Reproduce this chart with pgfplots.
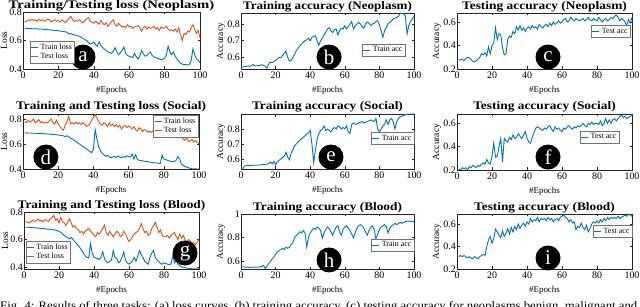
\documentclass[border=0pt]{standalone}
\usepackage{fontspec}
\setmainfont{Liberation Serif}
\usepackage{graphicx}
\usepackage{pgfplots}
\usepackage{pgfplotstable}
\pgfplotsset{compat=1.18}
\definecolor{mblue}{rgb}{0,0.447,0.741}
\definecolor{morange}{rgb}{0.850,0.325,0.098}
\definecolor{maxis}{rgb}{0.15,0.15,0.15}

% ---- Neoplasm ----
\pgfplotstableread[row sep=\\]{y\\
0.685\\0.684\\0.684\\0.683\\0.683\\0.682\\0.683\\0.681\\0.680\\0.681\\
0.679\\0.678\\0.679\\0.676\\0.675\\0.674\\0.672\\0.670\\0.671\\0.668\\
0.666\\0.665\\0.663\\0.660\\0.658\\0.645\\0.650\\0.642\\0.640\\0.636\\
0.632\\0.630\\0.620\\0.615\\0.605\\0.600\\0.585\\0.575\\0.580\\0.590\\
0.570\\0.560\\0.590\\0.565\\0.550\\0.540\\0.530\\0.520\\0.515\\0.510\\
0.525\\0.550\\0.520\\0.500\\0.515\\0.530\\0.555\\0.510\\0.495\\0.490\\
0.485\\0.480\\0.510\\0.485\\0.470\\0.490\\0.530\\0.505\\0.490\\0.495\\
0.510\\0.520\\0.495\\0.485\\0.480\\0.475\\0.470\\0.465\\0.468\\0.475\\
0.500\\0.560\\0.520\\0.500\\0.520\\0.490\\0.470\\0.455\\0.440\\0.435\\
0.430\\0.432\\0.428\\0.430\\0.460\\0.540\\0.500\\0.470\\0.460\\0.445\\
}\aTr
\pgfplotstableread[row sep=\\]{y\\
0.730\\0.735\\0.745\\0.740\\0.750\\0.740\\0.745\\0.735\\0.750\\0.740\\
0.745\\0.735\\0.740\\0.750\\0.745\\0.730\\0.740\\0.745\\0.735\\0.740\\
0.730\\0.745\\0.735\\0.725\\0.740\\0.755\\0.770\\0.745\\0.735\\0.740\\
0.735\\0.745\\0.730\\0.725\\0.740\\0.755\\0.760\\0.735\\0.730\\0.720\\
0.735\\0.725\\0.715\\0.740\\0.720\\0.710\\0.725\\0.700\\0.715\\0.735\\
0.745\\0.710\\0.700\\0.720\\0.705\\0.695\\0.700\\0.690\\0.710\\0.695\\
0.700\\0.685\\0.695\\0.700\\0.705\\0.690\\0.665\\0.690\\0.700\\0.680\\
0.695\\0.685\\0.690\\0.700\\0.680\\0.690\\0.670\\0.695\\0.685\\0.690\\
0.700\\0.680\\0.670\\0.675\\0.665\\0.680\\0.660\\0.690\\0.640\\0.600\\
0.650\\0.640\\0.665\\0.660\\0.690\\0.710\\0.680\\0.650\\0.670\\0.620\\
}\aTe
\pgfplotstableread[row sep=\\]{y\\
0.540\\0.545\\0.545\\0.548\\0.546\\0.550\\0.558\\0.548\\0.550\\0.549\\
0.552\\0.556\\0.550\\0.548\\0.535\\0.560\\0.572\\0.568\\0.575\\0.582\\
0.590\\0.600\\0.598\\0.612\\0.625\\0.636\\0.600\\0.578\\0.582\\0.600\\
0.620\\0.640\\0.655\\0.670\\0.680\\0.690\\0.700\\0.705\\0.715\\0.700\\
0.720\\0.725\\0.730\\0.700\\0.672\\0.700\\0.715\\0.735\\0.750\\0.770\\
0.778\\0.760\\0.748\\0.765\\0.770\\0.735\\0.760\\0.775\\0.770\\0.790\\
0.770\\0.785\\0.798\\0.815\\0.770\\0.790\\0.800\\0.810\\0.800\\0.785\\
0.775\\0.800\\0.812\\0.805\\0.790\\0.800\\0.805\\0.815\\0.820\\0.795\\
0.760\\0.720\\0.760\\0.780\\0.800\\0.810\\0.820\\0.830\\0.835\\0.840\\
0.845\\0.865\\0.862\\0.860\\0.850\\0.740\\0.790\\0.815\\0.830\\0.845\\
}\bTr
\pgfplotstableread[row sep=\\]{y\\
0.280\\0.275\\0.285\\0.270\\0.290\\0.300\\0.295\\0.280\\0.265\\0.260\\
0.270\\0.285\\0.300\\0.330\\0.320\\0.340\\0.310\\0.390\\0.330\\0.400\\
0.420\\0.550\\0.450\\0.500\\0.490\\0.380\\0.320\\0.330\\0.450\\0.480\\
0.470\\0.520\\0.500\\0.560\\0.530\\0.570\\0.530\\0.550\\0.520\\0.550\\
0.560\\0.540\\0.570\\0.550\\0.560\\0.540\\0.580\\0.560\\0.550\\0.570\\
0.580\\0.560\\0.590\\0.570\\0.600\\0.580\\0.590\\0.610\\0.590\\0.600\\
0.620\\0.630\\0.600\\0.610\\0.640\\0.620\\0.610\\0.630\\0.620\\0.610\\
0.620\\0.630\\0.610\\0.620\\0.640\\0.620\\0.610\\0.630\\0.620\\0.610\\
0.640\\0.620\\0.600\\0.620\\0.630\\0.610\\0.620\\0.640\\0.630\\0.650\\
0.660\\0.640\\0.610\\0.630\\0.620\\0.600\\0.570\\0.620\\0.590\\0.640\\
}\cTe
% ---- Social ----
\pgfplotstableread[row sep=\\]{y\\
0.690\\0.689\\0.688\\0.688\\0.687\\0.686\\0.686\\0.685\\0.684\\0.684\\
0.683\\0.682\\0.681\\0.680\\0.679\\0.678\\0.677\\0.675\\0.673\\0.672\\
0.670\\0.668\\0.665\\0.660\\0.665\\0.658\\0.645\\0.640\\0.630\\0.620\\
0.610\\0.600\\0.590\\0.580\\0.570\\0.560\\0.550\\0.540\\0.530\\0.560\\
0.715\\0.640\\0.580\\0.545\\0.525\\0.515\\0.500\\0.510\\0.495\\0.490\\
0.495\\0.500\\0.490\\0.505\\0.495\\0.490\\0.500\\0.495\\0.505\\0.500\\
0.495\\0.520\\0.480\\0.515\\0.475\\0.470\\0.468\\0.465\\0.462\\0.460\\
0.458\\0.455\\0.452\\0.450\\0.448\\0.450\\0.446\\0.445\\0.510\\0.480\\
0.475\\0.470\\0.465\\0.462\\0.458\\0.460\\0.470\\0.500\\0.480\\0.440\\
0.430\\0.420\\0.415\\0.410\\0.405\\0.402\\0.400\\0.401\\0.400\\0.400\\
}\dTr
\pgfplotstableread[row sep=\\]{y\\
0.780\\0.770\\0.790\\0.775\\0.785\\0.800\\0.770\\0.780\\0.795\\0.770\\
0.780\\0.765\\0.775\\0.770\\0.785\\0.800\\0.770\\0.760\\0.790\\0.760\\
0.740\\0.720\\0.710\\0.750\\0.780\\0.820\\0.760\\0.770\\0.760\\0.775\\
0.760\\0.770\\0.755\\0.770\\0.760\\0.740\\0.750\\0.760\\0.790\\0.810\\
0.835\\0.810\\0.780\\0.760\\0.750\\0.770\\0.760\\0.740\\0.770\\0.745\\
0.760\\0.740\\0.755\\0.735\\0.750\\0.720\\0.740\\0.750\\0.730\\0.745\\
0.735\\0.720\\0.740\\0.715\\0.705\\0.730\\0.720\\0.700\\0.715\\0.710\\
0.695\\0.705\\0.690\\0.710\\0.700\\0.680\\0.695\\0.680\\0.690\\0.710\\
0.680\\0.670\\0.690\\0.665\\0.660\\0.680\\0.670\\0.660\\0.650\\0.665\\
0.640\\0.630\\0.650\\0.620\\0.625\\0.635\\0.615\\0.630\\0.610\\0.605\\
}\dTe
\pgfplotstableread[row sep=\\]{y\\
0.535\\0.552\\0.555\\0.556\\0.556\\0.557\\0.558\\0.558\\0.559\\0.560\\
0.560\\0.562\\0.562\\0.564\\0.565\\0.570\\0.580\\0.568\\0.585\\0.560\\
0.580\\0.590\\0.600\\0.610\\0.620\\0.645\\0.612\\0.595\\0.640\\0.660\\
0.690\\0.700\\0.715\\0.725\\0.735\\0.745\\0.755\\0.765\\0.775\\0.790\\
0.700\\0.575\\0.660\\0.730\\0.770\\0.790\\0.800\\0.820\\0.790\\0.800\\
0.790\\0.780\\0.800\\0.810\\0.800\\0.820\\0.815\\0.800\\0.810\\0.800\\
0.820\\0.780\\0.770\\0.830\\0.840\\0.830\\0.835\\0.840\\0.845\\0.850\\
0.840\\0.845\\0.850\\0.855\\0.860\\0.855\\0.850\\0.870\\0.800\\0.780\\
0.800\\0.820\\0.830\\0.860\\0.830\\0.860\\0.870\\0.850\\0.800\\0.850\\
0.870\\0.880\\0.885\\0.890\\0.895\\0.898\\0.900\\0.900\\0.899\\0.900\\
}\eTr
\pgfplotstableread[row sep=\\]{y\\
0.210\\0.200\\0.220\\0.210\\0.220\\0.200\\0.230\\0.220\\0.240\\0.230\\
0.220\\0.240\\0.230\\0.250\\0.260\\0.250\\0.290\\0.260\\0.250\\0.320\\
0.430\\0.310\\0.320\\0.400\\0.470\\0.270\\0.470\\0.450\\0.440\\0.480\\
0.460\\0.500\\0.470\\0.480\\0.510\\0.490\\0.470\\0.500\\0.530\\0.470\\
0.440\\0.430\\0.480\\0.520\\0.560\\0.570\\0.560\\0.550\\0.540\\0.560\\
0.550\\0.570\\0.580\\0.550\\0.530\\0.570\\0.550\\0.560\\0.540\\0.530\\
0.560\\0.550\\0.570\\0.580\\0.560\\0.550\\0.570\\0.560\\0.580\\0.570\\
0.580\\0.600\\0.580\\0.570\\0.600\\0.590\\0.610\\0.590\\0.600\\0.600\\
0.590\\0.620\\0.580\\0.600\\0.640\\0.600\\0.630\\0.600\\0.630\\0.640\\
0.620\\0.640\\0.660\\0.670\\0.650\\0.660\\0.640\\0.650\\0.660\\0.670\\
}\fTe
% ---- Blood ----
\pgfplotstableread[row sep=\\]{y\\
0.690\\0.689\\0.688\\0.687\\0.686\\0.685\\0.684\\0.683\\0.682\\0.680\\
0.679\\0.678\\0.676\\0.675\\0.674\\0.672\\0.670\\0.668\\0.664\\0.660\\
0.652\\0.640\\0.630\\0.620\\0.612\\0.605\\0.615\\0.600\\0.585\\0.570\\
0.555\\0.540\\0.520\\0.500\\0.480\\0.470\\0.465\\0.570\\0.500\\0.470\\
0.465\\0.460\\0.455\\0.470\\0.510\\0.460\\0.440\\0.430\\0.440\\0.450\\
0.520\\0.470\\0.460\\0.430\\0.440\\0.470\\0.510\\0.450\\0.430\\0.420\\
0.430\\0.445\\0.470\\0.440\\0.480\\0.520\\0.490\\0.470\\0.440\\0.430\\
0.420\\0.470\\0.500\\0.520\\0.470\\0.450\\0.440\\0.425\\0.420\\0.430\\
0.425\\0.420\\0.418\\0.420\\0.480\\0.430\\0.450\\0.420\\0.410\\0.400\\
0.398\\0.395\\0.392\\0.390\\0.388\\0.387\\0.386\\0.386\\0.385\\0.386\\
}\gTr
\pgfplotstableread[row sep=\\]{y\\
0.730\\0.725\\0.720\\0.730\\0.740\\0.730\\0.735\\0.750\\0.735\\0.740\\
0.730\\0.745\\0.740\\0.730\\0.750\\0.760\\0.775\\0.740\\0.750\\0.720\\
0.760\\0.730\\0.720\\0.700\\0.730\\0.750\\0.720\\0.690\\0.700\\0.680\\
0.670\\0.650\\0.660\\0.640\\0.660\\0.670\\0.680\\0.660\\0.650\\0.630\\
0.620\\0.650\\0.640\\0.660\\0.680\\0.705\\0.650\\0.630\\0.660\\0.640\\
0.620\\0.640\\0.660\\0.650\\0.620\\0.630\\0.660\\0.640\\0.610\\0.585\\
0.600\\0.620\\0.640\\0.650\\0.660\\0.680\\0.715\\0.680\\0.650\\0.660\\
0.630\\0.640\\0.680\\0.700\\0.725\\0.690\\0.650\\0.670\\0.630\\0.620\\
0.620\\0.630\\0.610\\0.630\\0.640\\0.650\\0.620\\0.600\\0.640\\0.610\\
0.630\\0.600\\0.580\\0.600\\0.590\\0.570\\0.580\\0.560\\0.580\\0.600\\
}\gTe
\pgfplotstableread[row sep=\\]{y\\
0.555\\0.552\\0.550\\0.551\\0.548\\0.550\\0.549\\0.551\\0.550\\0.552\\
0.553\\0.558\\0.565\\0.538\\0.560\\0.580\\0.600\\0.620\\0.635\\0.660\\
0.680\\0.690\\0.700\\0.710\\0.700\\0.720\\0.710\\0.720\\0.740\\0.760\\
0.800\\0.820\\0.830\\0.850\\0.840\\0.860\\0.840\\0.720\\0.800\\0.840\\
0.860\\0.880\\0.870\\0.890\\0.880\\0.860\\0.795\\0.840\\0.870\\0.890\\
0.880\\0.850\\0.820\\0.860\\0.890\\0.900\\0.850\\0.820\\0.870\\0.890\\
0.900\\0.880\\0.860\\0.830\\0.800\\0.840\\0.880\\0.900\\0.910\\0.900\\
0.880\\0.850\\0.820\\0.860\\0.890\\0.900\\0.870\\0.790\\0.830\\0.870\\
0.890\\0.900\\0.910\\0.890\\0.840\\0.880\\0.900\\0.910\\0.920\\0.910\\
0.920\\0.930\\0.920\\0.930\\0.935\\0.940\\0.940\\0.935\\0.940\\0.930\\
}\hTr
\pgfplotstableread[row sep=\\]{y\\
0.310\\0.320\\0.310\\0.320\\0.310\\0.300\\0.310\\0.300\\0.290\\0.310\\
0.300\\0.290\\0.310\\0.320\\0.330\\0.320\\0.400\\0.460\\0.490\\0.430\\
0.470\\0.555\\0.530\\0.500\\0.480\\0.540\\0.490\\0.520\\0.560\\0.510\\
0.570\\0.530\\0.580\\0.550\\0.600\\0.560\\0.590\\0.610\\0.580\\0.620\\
0.600\\0.650\\0.620\\0.640\\0.630\\0.660\\0.620\\0.650\\0.640\\0.650\\
0.630\\0.660\\0.640\\0.650\\0.620\\0.640\\0.650\\0.630\\0.660\\0.670\\
0.680\\0.660\\0.650\\0.620\\0.640\\0.610\\0.620\\0.550\\0.580\\0.570\\
0.610\\0.570\\0.550\\0.590\\0.530\\0.560\\0.600\\0.620\\0.610\\0.630\\
0.610\\0.640\\0.620\\0.650\\0.630\\0.660\\0.640\\0.660\\0.650\\0.660\\
0.650\\0.670\\0.650\\0.660\\0.670\\0.680\\0.670\\0.690\\0.680\\0.670\\
}\iTe

\pgfplotsset{
  panel/.style={
    scale only axis, anchor=south west,
    xmin=0, xmax=100, xtick={0,20,40,60,80,100},
    tick align=inside, major tick length=2.5bp,
    axis line style={maxis, line width=0.5bp},
    tick style={maxis, line width=0.5bp},
    /pgf/number format/assume math mode=true,
    tick label style={font=\fontsize{10}{11}\selectfont, text=black},
    yticklabel style={inner sep=1bp, /pgf/number format/fixed, /pgf/number format/precision=1},
    xticklabel style={inner sep=3bp},
    xlabel={\#Epochs},
    xlabel style={font=\fontsize{9}{10}\selectfont, inner sep=0pt, yshift=-4bp},
    ylabel style={font=\fontsize{9.5}{10}\selectfont, inner sep=0pt, yshift=1bp},
    title style={font=\fontsize{11.6}{13}\selectfont\bfseries, inner sep=0pt, yshift=-5bp},
    clip mode=individual,
    every axis plot/.append style={line width=0.9bp, mark=none},
    legend cell align=left,
    legend style={font=\fontsize{8}{8.5}\selectfont, draw=black!55, inner sep=0.6bp, outer sep=0pt, row sep=-1.5bp, cells={anchor=west}},
    legend image code/.code={\draw[##1] (0bp,0bp) -- (7bp,0bp);},
  },
}
\tikzset{badge/.style={circle, fill=black, text=white, inner sep=0pt, minimum size=25bp, font=\fontsize{21}{21}\selectfont}}

\begin{document}
\begin{tikzpicture}
\useasboundingbox (0bp,0bp) rectangle (640bp,307bp);

% ===== Row 1: Neoplasm =====
\begin{axis}[panel, at={(23bp,238bp)}, width=177bp, height=57bp,
  ymin=0.4, ymax=0.8, ytick={0.4,0.6,0.8}, ylabel={Loss},
  title={\scalebox{1.27}[1]{Training/Testing loss (Neoplasm)}},
  legend style={at={(0.04,0.105)}, anchor=south west}]
\addplot[mblue] table[x expr=\coordindex+1, y=y] {\aTr};
\addplot[morange] table[x expr=\coordindex+1, y=y] {\aTe};
\legend{Train loss, Test loss}
\node[badge] at (rel axis cs:0.339,0.21) {a};
\end{axis}

\begin{axis}[panel, at={(241bp,238bp)}, width=173bp, height=56bp,
  ymin=0.53, ymax=0.866, ytick={0.6,0.7,0.8}, ylabel={Accuracy},
  title={\scalebox{1.13}[1]{Training accuracy (Neoplasm)}},
  legend style={at={(0.948,0.34)}, anchor=east}]
\addplot[mblue] table[x expr=\coordindex+1, y=y] {\bTr};
\legend{Train acc}
\node[badge] at (rel axis cs:0.509,0.214) {b};
\end{axis}

\begin{axis}[panel, at={(457bp,238bp)}, width=175bp, height=56bp,
  ymin=0.2, ymax=0.677, ytick={0.2,0.4,0.6}, ylabel={Accuracy},
  title={\scalebox{1.16}[1]{Testing accuracy (Neoplasm)}},
  legend style={at={(0.99,0.67)}, anchor=east}]
\addplot[mblue] table[x expr=\coordindex+1, y=y] {\cTe};
\legend{Test acc}
\node[badge] at (rel axis cs:0.52,0.214) {c};
\end{axis}

% ===== Row 2: Social =====
\begin{axis}[panel, at={(23bp,138bp)}, width=176bp, height=55bp,
  ymin=0.4, ymax=0.84, ytick={0.4,0.6,0.8}, ylabel={Loss},
  title={\scalebox{1.16}[1]{Training and Testing loss (Social)}},
  title style={yshift=1bp},
  legend style={at={(0.994,0.98)}, anchor=north east}]
\addplot[mblue] table[x expr=\coordindex+1, y=y] {\dTr};
\addplot[morange] table[x expr=\coordindex+1, y=y] {\dTe};
\legend{Train loss, Test loss}
\node[badge] at (rel axis cs:0.13,0.218) {d};
\end{axis}

\begin{axis}[panel, at={(241bp,138bp)}, width=173bp, height=55bp,
  ymin=0.533, ymax=0.9, ytick={0.6,0.7,0.8}, ylabel={Accuracy},
  title={\scalebox{1.16}[1]{Training accuracy (Social)}},
  title style={yshift=1bp},
  legend style={at={(1.0,0.56)}, anchor=east}]
\addplot[mblue] table[x expr=\coordindex+1, y=y] {\eTr};
\legend{Train acc}
\node[badge] at (rel axis cs:0.52,0.218) {e};
\end{axis}

\begin{axis}[panel, at={(457bp,137bp)}, width=175bp, height=56bp,
  ymin=0.2, ymax=0.68, ytick={0.2,0.4,0.6}, ylabel={Accuracy},
  title={\scalebox{1.16}[1]{Testing accuracy (Social)}},
  title style={yshift=1bp},
  legend style={at={(0.926,0.59)}, anchor=east}]
\addplot[mblue] table[x expr=\coordindex+1, y=y] {\fTe};
\legend{Test acc}
\node[badge] at (rel axis cs:0.52,0.232) {f};
\end{axis}

% ===== Row 3: Blood =====
\begin{axis}[panel, at={(24bp,38bp)}, width=175bp, height=57bp,
  ymin=0.385, ymax=0.8, ytick={0.4,0.6,0.8}, ylabel={Loss},
  title={\scalebox{1.15}[1]{Training and Testing loss (Blood)}},
  title style={yshift=-0.5bp},
  legend style={at={(0.011,0.105)}, anchor=south west}]
\addplot[mblue] table[x expr=\coordindex+1, y=y] {\gTr};
\addplot[morange] table[x expr=\coordindex+1, y=y] {\gTe};
\legend{Train loss, Test loss}
\node[badge] at (rel axis cs:0.92,0.28) {g};
\end{axis}

\begin{axis}[panel, at={(241bp,38bp)}, width=173bp, height=55bp,
  ymin=0.535, ymax=1, ytick={0.6,0.8,1}, ylabel={Accuracy},
  title={\scalebox{1.15}[1]{Training accuracy (Blood)}},
  title style={yshift=-0.5bp},
  legend style={at={(1.0,0.436)}, anchor=east}]
\addplot[mblue] table[x expr=\coordindex+1, y=y] {\hTr};
\legend{Train acc}
\node[badge] at (rel axis cs:0.509,0.164) {h};
\end{axis}

\begin{axis}[panel, at={(457bp,38bp)}, width=175bp, height=55bp,
  ymin=0.2, ymax=0.69, ytick={0.2,0.4,0.6}, ylabel={Accuracy},
  title={\scalebox{1.15}[1]{Testing accuracy (Blood)}},
  title style={yshift=-0.5bp},
  legend style={at={(1.0,0.68)}, anchor=east}]
\addplot[mblue] table[x expr=\coordindex+1, y=y] {\iTe};
\legend{Test acc}
\node[badge] at (rel axis cs:0.52,0.2) {i};
\end{axis}

\node[anchor=base west, inner sep=0pt, font=\fontsize{11.5}{12}\selectfont] at (0bp,-2.5bp)
  {\scalebox{1.11}[1]{Fig. 4: Results of three tasks: (a) loss curves, (b) training accuracy, (c) testing accuracy for neoplasms benign, malignant and}};
\end{tikzpicture}
\end{document}
